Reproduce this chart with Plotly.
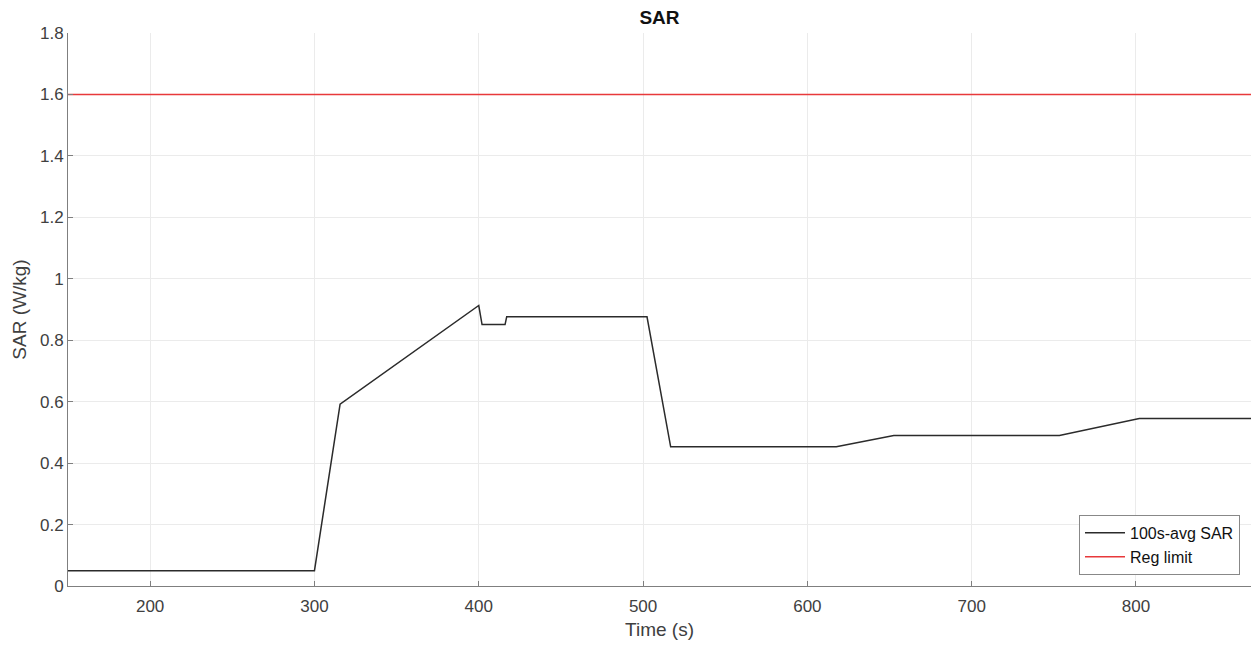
import plotly.graph_objects as go

# Data
time_s = [150, 300, 315.6, 400, 402, 416, 417, 502.4, 516.8, 617.6, 652.6, 753.4, 802, 870]
sar_avg = [0.05, 0.05, 0.592, 0.913, 0.851, 0.851, 0.876, 0.876, 0.453, 0.453, 0.49, 0.49, 0.545, 0.545]
limit_x = [150, 870]
limit_y = [1.6, 1.6]
x_ticks = [200, 300, 400, 500, 600, 700, 800]
y_ticks = [0, 0.2, 0.4, 0.6, 0.8, 1.0, 1.2, 1.4, 1.6, 1.8]
y_tick_labels = ["0", "0.2", "0.4", "0.6", "0.8", "1", "1.2", "1.4", "1.6", "1.8"]

FONT = "Liberation Sans, Arial, sans-serif"

fig = go.Figure()
fig.add_trace(go.Scatter(x=time_s, y=sar_avg, mode="lines", name="100s-avg SAR",
                         line=dict(color="#2b2b2b", width=1.5)))
fig.add_trace(go.Scatter(x=limit_x, y=limit_y, mode="lines", name="Reg limit",
                         line=dict(color="#e8393b", width=1.5)))

fig.update_layout(
    width=1252, height=646,
    margin=dict(l=68, r=1, t=33, b=60, autoexpand=False),
    paper_bgcolor="white", plot_bgcolor="white",
    font=dict(family=FONT, color="#404040", size=17),
    title=dict(text="<b>SAR</b>", x=0.5, xref="paper", xanchor="center",
               y=1 - 17 / 646, yref="container", yanchor="middle",
               font=dict(family=FONT, size=19, color="#111111")),
    showlegend=True,
    legend=dict(x=0.9907, y=0.02, xanchor="right", yanchor="bottom",
                bgcolor="white", bordercolor="#888888", borderwidth=1,
                font=dict(family=FONT, size=16, color="#111111"),
                tracegroupgap=0, itemwidth=40),
)

fig.update_xaxes(
    range=[150, 870], tickvals=x_ticks,
    showgrid=True, gridcolor="#ebebeb", gridwidth=1,
    zeroline=False, showline=True, linecolor="#7f7f7f", linewidth=1,
    ticks="inside", ticklen=5, tickcolor="#7f7f7f",
    ticklabelstandoff=5,
    tickfont=dict(family=FONT, size=17, color="#404040"),
    title=dict(text="Time (s)", font=dict(family=FONT, size=19, color="#404040"), standoff=7),
    automargin=False, mirror=False,
)
fig.update_yaxes(
    range=[0, 1.8], tickvals=y_ticks, ticktext=y_tick_labels,
    showgrid=True, gridcolor="#ebebeb", gridwidth=1,
    zeroline=False, showline=True, linecolor="#7f7f7f", linewidth=1,
    ticks="inside", ticklen=5, tickcolor="#7f7f7f",
    tickfont=dict(family=FONT, size=17, color="#404040"),
    title=dict(text="SAR (W/kg)", font=dict(family=FONT, size=19, color="#404040"), standoff=8),
    automargin=False, mirror=False,
)

fig.write_html(
    "out.html",
    config={"displayModeBar": False},
    post_script="document.body.style.margin='0';document.body.style.overflow='hidden';",
)
